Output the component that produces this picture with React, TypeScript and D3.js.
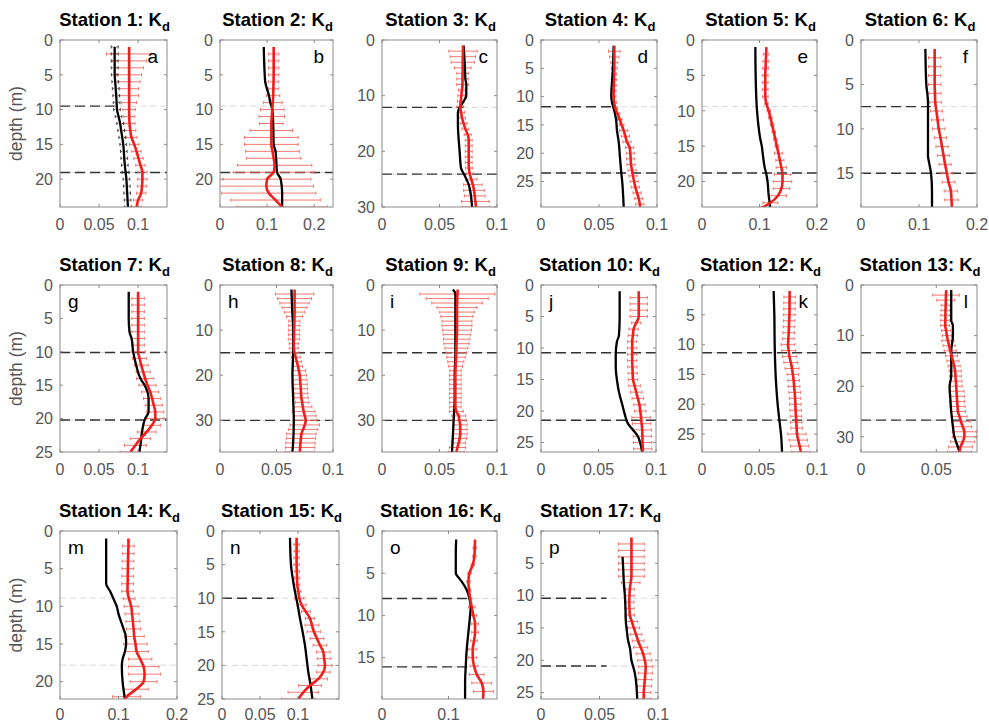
import React from 'react';
import * as d3 from 'd3';

// ---- panel meta ----
const stationNames = ['1', '2', '3', '4', '5', '6', '7', '8', '9', '10', '12', '13', '14', '15', '16', '17'];
const panelLetters = ['a', 'b', 'c', 'd', 'e', 'f', 'g', 'h', 'i', 'j', 'k', 'l', 'm', 'n', 'o', 'p'];
const letterOnRight = [true, true, true, true, true, true, false, false, false, false, true, true, false, false, false, false];

const xMax = [0.137, 0.24, 0.1, 0.1, 0.2, 0.2, 0.137, 0.1, 0.1, 0.1, 0.1, 0.077, 0.2, 0.154, 0.173, 0.1];
const yMax = [24, 24, 30, 29.5, 23.6, 18.8, 25, 37, 37, 26.5, 28, 33, 22.3, 25, 19.9, 26];
const xTickVals = [
  [0, 0.05, 0.1], [0, 0.1, 0.2], [0, 0.05, 0.1], [0, 0.05, 0.1], [0, 0.1, 0.2], [0, 0.1, 0.2],
  [0, 0.05, 0.1], [0, 0.05, 0.1], [0, 0.05, 0.1], [0, 0.05, 0.1], [0, 0.05, 0.1], [0, 0.05],
  [0, 0.1, 0.2], [0, 0.05, 0.1], [0, 0.1], [0, 0.05, 0.1],
];
const yTickVals = [
  [0, 5, 10, 15, 20], [0, 5, 10, 15, 20], [0, 10, 20, 30], [0, 5, 10, 15, 20, 25], [0, 5, 10, 15, 20], [0, 5, 10, 15],
  [0, 5, 10, 15, 20, 25], [0, 10, 20, 30], [0, 10, 20, 30], [0, 5, 10, 15, 20, 25], [0, 5, 10, 15, 20, 25], [0, 10, 20, 30],
  [0, 5, 10, 15, 20], [0, 5, 10, 15, 20, 25], [0, 5, 10, 15], [0, 5, 10, 15, 20, 25],
];

// mixed layer depths (m) and how far the black dash runs (1 = whole width, 0 = grey only)
const mlDepth = [
  [9.5, 19.05], [9.5, 19.05], [12.1, 24.1], [11.8, 23.5], [9.4, 18.8], [7.5, 15.0],
  [10.1, 20.2], [15, 30], [15, 30], [10.75, 21.45], [11.35, 22.65], [13.4, 26.7],
  [8.9, 17.8], [10, 20], [8, 16.1], [10.4, 20.9],
];
const mlBlackTo = [
  [0.07, 1], [0, 1], [0.071, 1], [0.062, 1], [0, 1], [0.12, 1],
  [1, 1], [1, 1], [1, 1], [1, 1], [1, 1], [1, 1],
  [0, 0], [0.068, 0], [0.1325, 0.1325], [0.056, 0.056],
];

// ---- observed Kd (red), one value per metre starting at 1 m, with error half-widths ----
const obsS1 = [.0885, .0885, .0885, .0885, .0885, .0885, .0885, .0885, .0885, .0885, .0887, .089, .090, .0915, .095, .098, .1005, .103, .1055, .1055, .105, .104, .100, .098];
const errS1 = [0, .029, .022, .0185, .016, .014, .012, .012, .0095, .008, .007, .007, .007, .007, .006, .006, .006, .006, .006, .006, .006, .006, .006, .006];
const obsS2 = [.114, .114, .114, .114, .114, .1137, .1133, .113, .112, .111, .110, .109, .109, .109, .109, .1115, .114, .116, .114, .100, .0985, .1036, .118, .132];
const errS2 = [0, .011, .011, .011, .011, .011, .011, .014, .02, .025, .027, .025, .045, .057, .057, .057, .058, .079, .086, .093, .1, .1, .095, .096];
const obsS3 = [.0704, .0704, .0703, .0702, .0702, .0701, .070, .070, .0695, .069, .0685, .068, .0688, .0696, .071, .0725, .0745, .0754, .0754, .0754, .0754, .0754, .0756, .0762, .0776, .079, .080, .0806, .0812, .0817];
const errS3 = [0, .0123, .011, .0101, .0072, .005, .005, .005, .003, .003, .003, .003, .003, .003, .003, .003, .003, .003, .003, .003, .003, .003, .003, .003, .005, .008, .009, .009, .012, .012];
const obsS4 = [.0632, .0632, .0632, .0632, .0632, .0631, .063, .0628, .0627, .0626, .063, .064, .0659, .0678, .0695, .0713, .0727, .0741, .0764, .077, .0773, .0776, .0785, .0793, .0803, .0813, .0828, .0842, .0852, .0858];
const errS4 = [0, .005, .004, .003, .0025, .002, .002, .002, .002, .002, .002, .002, .002, .002, .002, .0035, .0035, .0035, .0035, .0035, .0035, .0035, .0035, .0035, .0035, .0035, .0035, .0035, .0035, 0];
const obsS5 = [.112, .1115, .111, .1105, .110, .110, .110, .110, .112, .116, .119, .122, .1248, .1275, .130, .133, .1355, .138, .140, .140, .138, .132, .119, .097];
const errS5 = [0, .005, .005, .005, .005, .005, .005, .005, .003, .003, .003, .003, .003, .003, .003, .007, .007, .009, .0145, .016, .014, .015, .013, .022];
const obsS6 = [.127, .127, .127, .127, .127, .1275, .128, .130, .132, .134, .137, .1397, .1423, .145, .148, .151, .155, .156, .157];
const errS6 = [0, .0105, .0105, .0105, .0105, .0105, .0105, .0105, .0105, .0105, .0105, .0105, .0105, .0105, .0105, .011, .0115, .0115, 0];
const obsS7 = [.100, .100, .100, .100, .100, .100, .100, .100, .100, .100, .102, .104, .1065, .109, .112, .1155, .118, .120, .122, .122, .1176, .111, .103, .0966, .090];
const errS7 = [0, .008, .008, .008, .008, .008, .008, .008, .008, .009, .009, .009, .009, .011, .011, .011, .011, .011, .011, .011, .011, .012, .013, .014, .013];
const obsS8 = [.066, .066, .066, .066, .066, .066, .0659, .0658, .0657, .0656, .0655, .0654, .0653, .0653, .066, .067, .068, .069, .0698, .0706, .0709, .0712, .0715, .0717, .072, .0727, .0733, .074, .075, .0759, .075, .0735, .072, .0716, .0712, .0709, .0706];
const errS8 = [0, .017, .015, .013, .011, .009, .007, .005, .005, .005, .005, .005, .004, .004, .004, .004, .004, .004, .006, .006, .006, .006, .006, .006, .006, .006, .008, .01, .01, .01, .013, .013, .013, .013, .013, .013, .013];
const obsS9 = [.0658, .0656, .0654, .0653, .0652, .0652, .0652, .0652, .0652, .0652, .0651, .065, .0648, .0647, .0646, .0644, .0642, .064, .0639, .0638, .0638, .0638, .0638, .0638, .0638, .0638, .0638, .0646, .0667, .0673, .068, .068, .068, .0675, .0667, .0656, .0646];
const errS9 = [0, .0326, .027, .022, .0174, .015, .014, .013, .013, .0125, .012, .0115, .011, .010, .009, .008, .007, .006, .005, .005, .005, .005, .005, .005, .005, .005, .005, .006, .006, .006, .006, .006, .006, .006, .006, .007, .007];
const obsS10 = [.085, .085, .085, .085, .085, .0828, .0805, .0799, .0793, .0793, .0793, .0793, .0795, .0797, .080, .0814, .0828, .0842, .0856, .0863, .087, .0875, .088, .0882, .0883, .0885, .0886];
const errS10 = [0, .0075, .0075, .0075, .0075, .004, .004, .004, .004, .004, .004, .004, .004, .004, .004, .005, .005, .005, .005, .005, .008, .008, .008, .008, .008, .008, 0];
const obsS12 = [.0762, .0762, .0761, .0761, .076, .0758, .0756, .0754, .0751, .0748, .0754, .076, .0772, .0783, .079, .0797, .0801, .0806, .0809, .0812, .0814, .0817, .082, .0823, .0826, .0837, .0849, .086];
const errS12 = [0, .005, .005, .005, .005, .005, .005, .005, .005, .006, .006, .006, .006, .006, .005, .005, .005, .005, .005, .005, .005, .005, .005, .005, .008, .008, .008, .008];
const obsS13 = [.0566, .0564, .0563, .0562, .0561, .056, .056, .0559, .0565, .057, .0577, .0585, .0592, .0601, .061, .0618, .0625, .0627, .063, .0632, .0634, .0636, .0638, .0641, .0643, .0654, .0664, .0675, .0686, .0686, .0675, .066, .0654];
const errS13 = [0, .0088, .006, .003, .003, .003, .003, .003, .003, .003, .004, .004, .004, .004, .004, .004, .004, .004, .004, .004, .005, .005, .005, .005, .005, .005, .006, .006, .008, .008, .008, .008, .008];
const obsS14 = [.117, .117, .1165, .1162, .116, .1158, .1156, .1154, .118, .1217, .1232, .1246, .1258, .1269, .129, .131, .137, .1429, .1446, .1429, .130, .114, .106];
const errS14 = [0, .01, .01, .01, .01, .01, .01, .01, .01, .012, .012, .012, .012, .017, .02, .02, .02, .026, .027, .023, .021, .024, 0];
const obsS15 = [.0982, .0982, .0982, .0982, .0982, .0985, .0988, .0991, .1005, .1018, .1048, .1103, .1158, .1184, .121, .125, .129, .1333, .1344, .1355, .1333, .1268, .1158, .107, .1004];
const errS15 = [0, .0035, .0035, .0035, .0035, .0035, .0035, .0035, .0035, .006, .006, .006, .006, .009, .009, .009, .009, .009, .009, .009, .009, .012, .015, .02, .022];
const obsS16 = [.140, .1395, .139, .1365, .1315, .130, .131, .1325, .135, .1375, .140, .140, .1385, .1365, .1365, .1385, .1425, .150, .1525, .152];
const errS16 = [0, .0025, .0025, .0025, .0025, .0025, .0025, .0025, .005, .005, .005, .005, .005, .006, .006, .006, .011, .015, .015, 0];
const obsS17 = [.0773, .0773, .0773, .0773, .0773, .0773, .0773, .0766, .0759, .0756, .0754, .0756, .0759, .0776, .0793, .0812, .083, .0852, .0873, .0887, .0895, .0892, .0887, .0883, .0878, .0878];
const errS17 = [0, .011, .011, .011, .011, .011, .011, .008, .004, .004, .004, .004, .004, .005, .005, .005, .005, .006, .006, .006, .006, .006, .006, .006, .006, .006];

// ---- modelled Kd (black), [depth, Kd] ----
const modS1: [number, number][] = [[1, .070], [2, .070], [3, .070], [4, .070], [5, .070], [6, .0707], [7, .0713], [8, .072], [9, .0725], [10, .073], [11, .075], [12, .077], [13, .0783], [14, .0797], [15, .081], [16, .0817], [17, .0823], [18, .083], [19, .084], [20, .085], [21, .0855], [22, .086], [23, .0865], [24, .087]];
const modErrS1 = [.0045, .0045, .0045, .0045, .0043, .0043, .0043, .0043, .0043, .0043, .0043, .0043, .0043, .0043, .0043, .0043, .0043, .0043, .0043, .0043, .0043, .0043, .0043, .0043];
const modS2: [number, number][] = [[1, .093], [5, .095], [6, .096], [8, .104], [9, .107], [10, .111], [12, .113], [15, .114], [16, .118], [18, .12], [19, .121], [20, .129], [22, .132], [24, .132]];
const modS3: [number, number][] = [[1, .071], [5, .0721], [7, .0725], [8, .0733], [10, .0733], [11, .071], [12, .068], [13, .066], [15, .066], [18, .0667], [20, .0675], [23, .0687], [24, .071], [26, .0754], [28, .0774], [30, .0783]];
const modS4: [number, number][] = [[1, .0626], [5, .062], [10, .0606], [11, .0612], [12, .0626], [14, .0647], [16, .0655], [18, .067], [20, .0678], [23, .069], [25, .070], [29.5, .0713]];
const modS5: [number, number][] = [[1, .0928], [5, .0933], [10, .0957], [12, .098], [14, .1014], [15, .104], [16, .1055], [18, .109], [19, .112], [20, .114], [22, .116], [23, .1177], [24, .119]];
const modS6: [number, number][] = [[1, .111], [5, .1126], [7, .1155], [10, .1155], [13, .1155], [14, .118], [15, .1207], [17, .1224], [18.8, .1224]];
const modS7: [number, number][] = [[1, .088], [5, .088], [7, .089], [8, .0916], [10, .0937], [12, .0975], [14, .103], [15, .1084], [17, .1134], [19, .1134], [20, .109], [22, .105], [24, .103], [25.3, .101]];
const modS8: [number, number][] = [[1, .0632], [5, .0638], [10, .0647], [15, .0647], [20, .0641], [25, .0647], [30, .0653], [35, .0647], [37, .0641]];
const modS9: [number, number][] = [[1, .0617], [2, .0638], [5, .0638], [10, .0638], [15, .0638], [20, .0632], [25, .0632], [30, .0623], [33, .0617], [37, .0609]];
const modS10: [number, number][] = [[1, .0684], [5, .0684], [8, .0678], [9, .066], [11, .065], [13, .065], [15, .066], [17, .0678], [19, .0707], [20, .0721], [21, .0736], [22, .0756], [23, .080], [24, .0842], [25, .0862], [26.5, .088]];
const modS12: [number, number][] = [[1, .0623], [5, .0629], [10, .0632], [15, .064], [20, .0658], [23, .0675], [25, .0687], [28, .0696]];
const modS13: [number, number][] = [[1, .0599], [5, .0599], [7, .0599], [8, .061], [10, .061], [13, .0599], [15, .0599], [18, .0599], [20, .0588], [22, .0592], [25, .0599], [28, .061], [30, .062], [32, .0643], [33, .0654]];
const modS14: [number, number][] = [[1, .0789], [5, .0789], [7, .0789], [8, .0857], [9, .0914], [10, .097], [11, .100], [13, .1086], [14, .1126], [15, .113], [16, .111], [17, .107], [18, .1057], [20, .107], [22.3, .111]];
const modS15: [number, number][] = [[1, .0895], [5, .0908], [7, .093], [9, .096], [11, .0996], [13, .1026], [15, .1061], [17, .1092], [19, .1114], [21, .1136], [23, .1167], [25, .1189]];
const modS16: [number, number][] = [[1, .1115], [3, .111], [5, .111], [5.5, .115], [6, .120], [7, .1275], [8, .1315], [9, .1335], [10, .1325], [12, .130], [14, .1275], [16, .126], [18, .125], [19.9, .125]];
const modS17: [number, number][] = [[4, .0697], [6, .0703], [8, .0708], [10, .0717], [12, .0722], [14, .0725], [15, .0731], [17, .0745], [18, .0759], [20, .0773], [22, .0802], [24, .0816], [26, .0822]];

const obsAll = [obsS1, obsS2, obsS3, obsS4, obsS5, obsS6, obsS7, obsS8, obsS9, obsS10, obsS12, obsS13, obsS14, obsS15, obsS16, obsS17];
const errAll = [errS1, errS2, errS3, errS4, errS5, errS6, errS7, errS8, errS9, errS10, errS12, errS13, errS14, errS15, errS16, errS17];
const modAll = [modS1, modS2, modS3, modS4, modS5, modS6, modS7, modS8, modS9, modS10, modS12, modS13, modS14, modS15, modS16, modS17];

// ---- layout ----
const W = 989;
const H = 724;
const panelLeft = [60, 220, 382, 541, 702, 861, 60, 220, 382, 541, 702, 861, 60, 222, 382, 541];
const panelRight = [167, 333, 497, 657, 817, 977, 167, 333, 497, 656, 817, 977, 177, 339, 497, 658];
const rowTop = [40, 285, 531];
const rowBottom = [207, 452, 699];
const xLabelGap = [23, 23, 21];

const FONT = '"Liberation Sans", Arial, Helvetica, sans-serif';
const AXIS = '#8a8a8a';
const LABEL = '#555';
const RED = '#f21d1d';
const ERR = '#f26a62';

const fmt = (v: number) => String(v);

function Panel({ i }: { i: number }) {
  const row = Math.floor(i / 6);
  const x0 = panelLeft[i];
  const x1 = panelRight[i];
  const y0 = rowTop[row];
  const y1 = rowBottom[row];
  const x = d3.scaleLinear().domain([0, xMax[i]]).range([x0, x1]);
  const y = d3.scaleLinear().domain([0, yMax[i]]).range([y0, y1]);

  const obs = obsAll[i].map((v, k) => [k + 1, v] as [number, number]);
  const err = errAll[i];
  const mod = modAll[i];

  const redLine = d3.line<[number, number]>()
    .x(d => x(d[1]))
    .y(d => y(d[0]))
    .curve(d3.curveMonotoneY);
  const blackLine = d3.line<[number, number]>()
    .x(d => x(d[1]))
    .y(d => y(d[0]))
    .curve(d3.curveMonotoneY);

  const clipId = `clip-${i}`;
  const cap = 1.6;
  const tickLen = 3;

  return (
    <g>
      <defs>
        <clipPath id={clipId}>
          <rect x={x0} y={y0} width={x1 - x0} height={y1 - y0} />
        </clipPath>
      </defs>

      <g clipPath={`url(#${clipId})`}>
        {/* mixed layer depth lines */}
        {mlDepth[i].map((d, k) => {
          const bt = Math.min(mlBlackTo[i][k], xMax[i]);
          return (
            <g key={k}>
              <line x1={x0} x2={x1} y1={y(d)} y2={y(d)} stroke="#d9d9d9" strokeWidth={1} strokeDasharray="6,4" />
              {bt > 0 && (
                <line x1={x0} x2={x(bt)} y1={y(d)} y2={y(d)} stroke="#333" strokeWidth={1.4} strokeDasharray="10,5" />
              )}
            </g>
          );
        })}

        {/* error bars of observed Kd */}
        {obs.map((d, k) => err[k] > 0 && (
          <g key={`e${k}`} stroke={ERR} strokeWidth={0.9}>
            <line x1={x(d[1] - err[k])} x2={x(d[1] + err[k])} y1={y(d[0])} y2={y(d[0])} />
            <line x1={x(d[1] - err[k])} x2={x(d[1] - err[k])} y1={y(d[0]) - cap} y2={y(d[0]) + cap} />
            <line x1={x(d[1] + err[k])} x2={x(d[1] + err[k])} y1={y(d[0]) - cap} y2={y(d[0]) + cap} />
          </g>
        ))}

        {/* model error bars (station 1 only) */}
        {i === 0 && mod.map((d, k) => (
          <g key={`m${k}`} stroke="#222" strokeWidth={0.8} strokeDasharray="1.5,1">
            <line x1={x(d[1] - modErrS1[k])} x2={x(d[1] + modErrS1[k])} y1={y(d[0])} y2={y(d[0])} />
            <line x1={x(d[1] - modErrS1[k])} x2={x(d[1] - modErrS1[k])} y1={y(d[0]) - cap} y2={y(d[0]) + cap} strokeDasharray="none" />
            <line x1={x(d[1] + modErrS1[k])} x2={x(d[1] + modErrS1[k])} y1={y(d[0]) - cap} y2={y(d[0]) + cap} strokeDasharray="none" />
          </g>
        ))}

        <path d={blackLine(mod) ?? ''} fill="none" stroke="#000" strokeWidth={2.3} />
        <path d={redLine(obs) ?? ''} fill="none" stroke={RED} strokeWidth={2.6} />
      </g>

      {/* box */}
      <rect x={x0} y={y0} width={x1 - x0} height={y1 - y0} fill="none" stroke={AXIS} strokeWidth={1} />

      {/* ticks */}
      {xTickVals[i].map(t => (
        <g key={`xt${t}`}>
          <line x1={x(t)} x2={x(t)} y1={y1} y2={y1 - tickLen} stroke={AXIS} />
          <line x1={x(t)} x2={x(t)} y1={y0} y2={y0 + tickLen} stroke={AXIS} />
          <text x={x(t)} y={y1 + xLabelGap[row]} textAnchor="middle" fontSize={16} fill={LABEL}>{fmt(t)}</text>
        </g>
      ))}
      {yTickVals[i].map(t => (
        <g key={`yt${t}`}>
          <line x1={x0} x2={x0 + tickLen} y1={y(t)} y2={y(t)} stroke={AXIS} />
          <line x1={x1} x2={x1 - tickLen} y1={y(t)} y2={y(t)} stroke={AXIS} />
          <text x={x0 - 7} y={y(t)} dy="0.36em" textAnchor="end" fontSize={16} fill={LABEL}>{t}</text>
        </g>
      ))}

      {/* title */}
      <text x={(x0 + x1) / 2 + 1} y={y0 - 14} textAnchor="middle" fontSize={18.5} fontWeight="bold" fill="#000">
        {`Station ${stationNames[i]}: K`}
        <tspan fontSize={13} dy={5}>d</tspan>
      </text>

      {/* panel letter */}
      <text
        x={letterOnRight[i] ? x1 - 9 : x0 + 8}
        y={y0 + 23}
        textAnchor={letterOnRight[i] ? 'end' : 'start'}
        fontSize={19}
        fill="#000"
      >
        {panelLetters[i]}
      </text>

      {/* y label for first column */}
      {i % 6 === 0 && (
        <text
          transform={`translate(${22},${(y0 + y1) / 2}) rotate(-90)`}
          textAnchor="middle"
          fontSize={17.5}
          fill={LABEL}
        >
          depth (m)
        </text>
      )}
    </g>
  );
}

export default function App() {
  return (
    <svg
      width={W}
      height={H}
      style={{ position: 'absolute', left: 0, top: 0, background: '#fff' }}
      fontFamily={FONT}
    >
      <rect width={W} height={H} fill="#fff" />
      {stationNames.map((_, i) => <Panel key={i} i={i} />)}
    </svg>
  );
}
